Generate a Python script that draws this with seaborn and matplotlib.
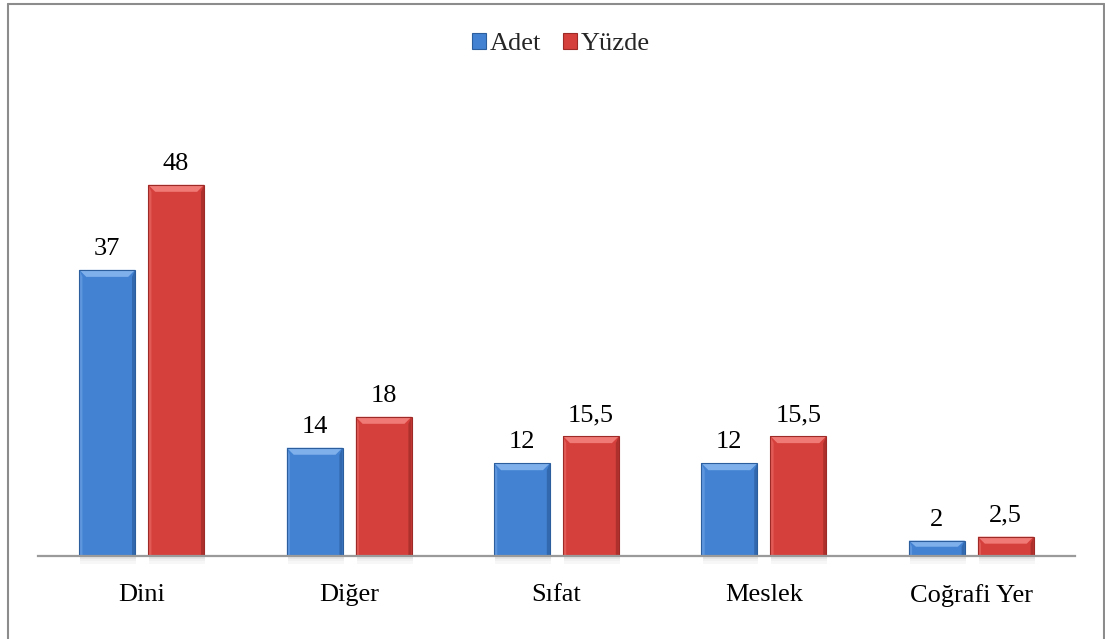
import matplotlib
matplotlib.use("Agg")
import matplotlib.pyplot as plt
import seaborn as sns
import pandas as pd
import numpy as np
from matplotlib.patches import Polygon, Rectangle
from matplotlib.lines import Line2D

categories = ["Dini", "Diğer", "Sıfat", "Meslek", "Coğrafi Yer"]
adet = [37, 14, 12, 12, 2]
yuzde = [48, 18, 15.5, 15.5, 2.5]
adet_labels = ["37", "14", "12", "12", "2"]
yuzde_labels = ["48", "18", "15,5", "15,5", "2,5"]
series = ["Adet", "Yüzde"]

df = pd.DataFrame({
    "Kategori": categories * 2,
    "Seri": ["Adet"] * len(categories) + ["Yüzde"] * len(categories),
    "Değer": adet + yuzde,
})

sns.set_theme(style="white")
plt.rcParams["font.family"] = ["Liberation Serif", "DejaVu Serif"]

fig = plt.figure(figsize=(11.05, 6.39), dpi=100)
ax = fig.add_axes([38 / 1105, 1 - 556 / 639, (1075 - 38) / 1105, (556 - 92) / 639])

main_cols = {"Adet": "#4382D2", "Yüzde": "#D6403C"}
light_cols = {"Adet": "#7FB0EC", "Yüzde": "#F07A76"}
dark_cols = {"Adet": "#2C5E9E", "Yüzde": "#9E2A27"}

sns.barplot(data=df, x="Kategori", y="Değer", hue="Seri", order=categories,
            hue_order=series, palette=main_cols, width=0.665, gap=0.19,
            ax=ax, legend=False, saturation=1, linewidth=0)

ax.set_ylim(0, 60)
ax.set_xlim(-0.5, len(categories) - 0.5)

# bevel decoration derived from the drawn bars
bars = [p for p in ax.patches if isinstance(p, Rectangle) and p.get_height() > 0]
px_per_unit_y = (556 - 92) / 60.0
px_per_unit_x = (1075 - 38) / 5.0
for i, p in enumerate(bars):
    s = series[i // len(categories)]
    x0, w, h = p.get_x(), p.get_width(), p.get_height()
    bev_x = min(7 / px_per_unit_x, w / 4)
    bev_y = min(7 / px_per_unit_y, h / 2.5)
    # soft shadow below baseline
    for k, a in enumerate([0.10, 0.06, 0.03]):
        ax.add_patch(Rectangle((x0 + 0.005, -0.35 * (k + 1)), w, 0.35, facecolor="#000000",
                               alpha=a, lw=0, clip_on=False, zorder=1))
    # top bevel
    ax.add_patch(Polygon([(x0, h), (x0 + w, h), (x0 + w - bev_x, h - bev_y), (x0 + bev_x, h - bev_y)],
                         closed=True, facecolor=light_cols[s], lw=0, zorder=3))
    # left bevel
    ax.add_patch(Polygon([(x0, h), (x0 + bev_x * 0.45, h - bev_y), (x0 + bev_x * 0.45, 0), (x0, 0)],
                         closed=True, facecolor=light_cols[s], alpha=0.45, lw=0, zorder=3))
    # right bevel
    ax.add_patch(Polygon([(x0 + w, h), (x0 + w - bev_x * 0.45, h - bev_y), (x0 + w - bev_x * 0.45, 0), (x0 + w, 0)],
                         closed=True, facecolor=dark_cols[s], alpha=0.7, lw=0, zorder=3))
    ax.add_patch(Rectangle((x0, 0), w, h, fill=False, edgecolor=dark_cols[s], lw=0.8, zorder=4))

labels = adet_labels + yuzde_labels
for p, lab in zip(bars, labels):
    ax.annotate(lab, (p.get_x() + p.get_width() / 2, p.get_height()),
                xytext=(0, 7), textcoords="offset points", ha="center", va="bottom",
                fontsize=19, color="black")

for sp in ["top", "right", "left"]:
    ax.spines[sp].set_visible(False)
ax.spines["bottom"].set_color("#9A9A9A")
ax.spines["bottom"].set_linewidth(1.6)
ax.spines["bottom"].set_zorder(5)
ax.set_yticks([])
ax.set_xlabel("")
ax.set_ylabel("")
ax.tick_params(axis="x", length=0, pad=20, labelsize=19, colors="black")

handles = [Rectangle((0, 0), 1, 1, facecolor=main_cols[s], edgecolor=dark_cols[s], lw=0.8) for s in series]
fig.legend(handles, series, loc="center", bbox_to_anchor=(561 / 1105, 1 - 44 / 639),
           ncol=2, frameon=False, fontsize=19, handlelength=0.55, handleheight=0.55,
           handletextpad=0.15, columnspacing=0.8)

# outer border
fig.add_artist(Line2D([8 / 1105, 8 / 1105], [0, 1 - 4 / 639], color="#8C8C8C", lw=1.5))
fig.add_artist(Line2D([8 / 1105, 1103.5 / 1105], [1 - 4 / 639, 1 - 4 / 639], color="#8C8C8C", lw=1.5))
fig.add_artist(Line2D([1103.5 / 1105, 1103.5 / 1105], [0, 1 - 4 / 639], color="#8C8C8C", lw=1.5))

fig.savefig("out.png", dpi=100)
